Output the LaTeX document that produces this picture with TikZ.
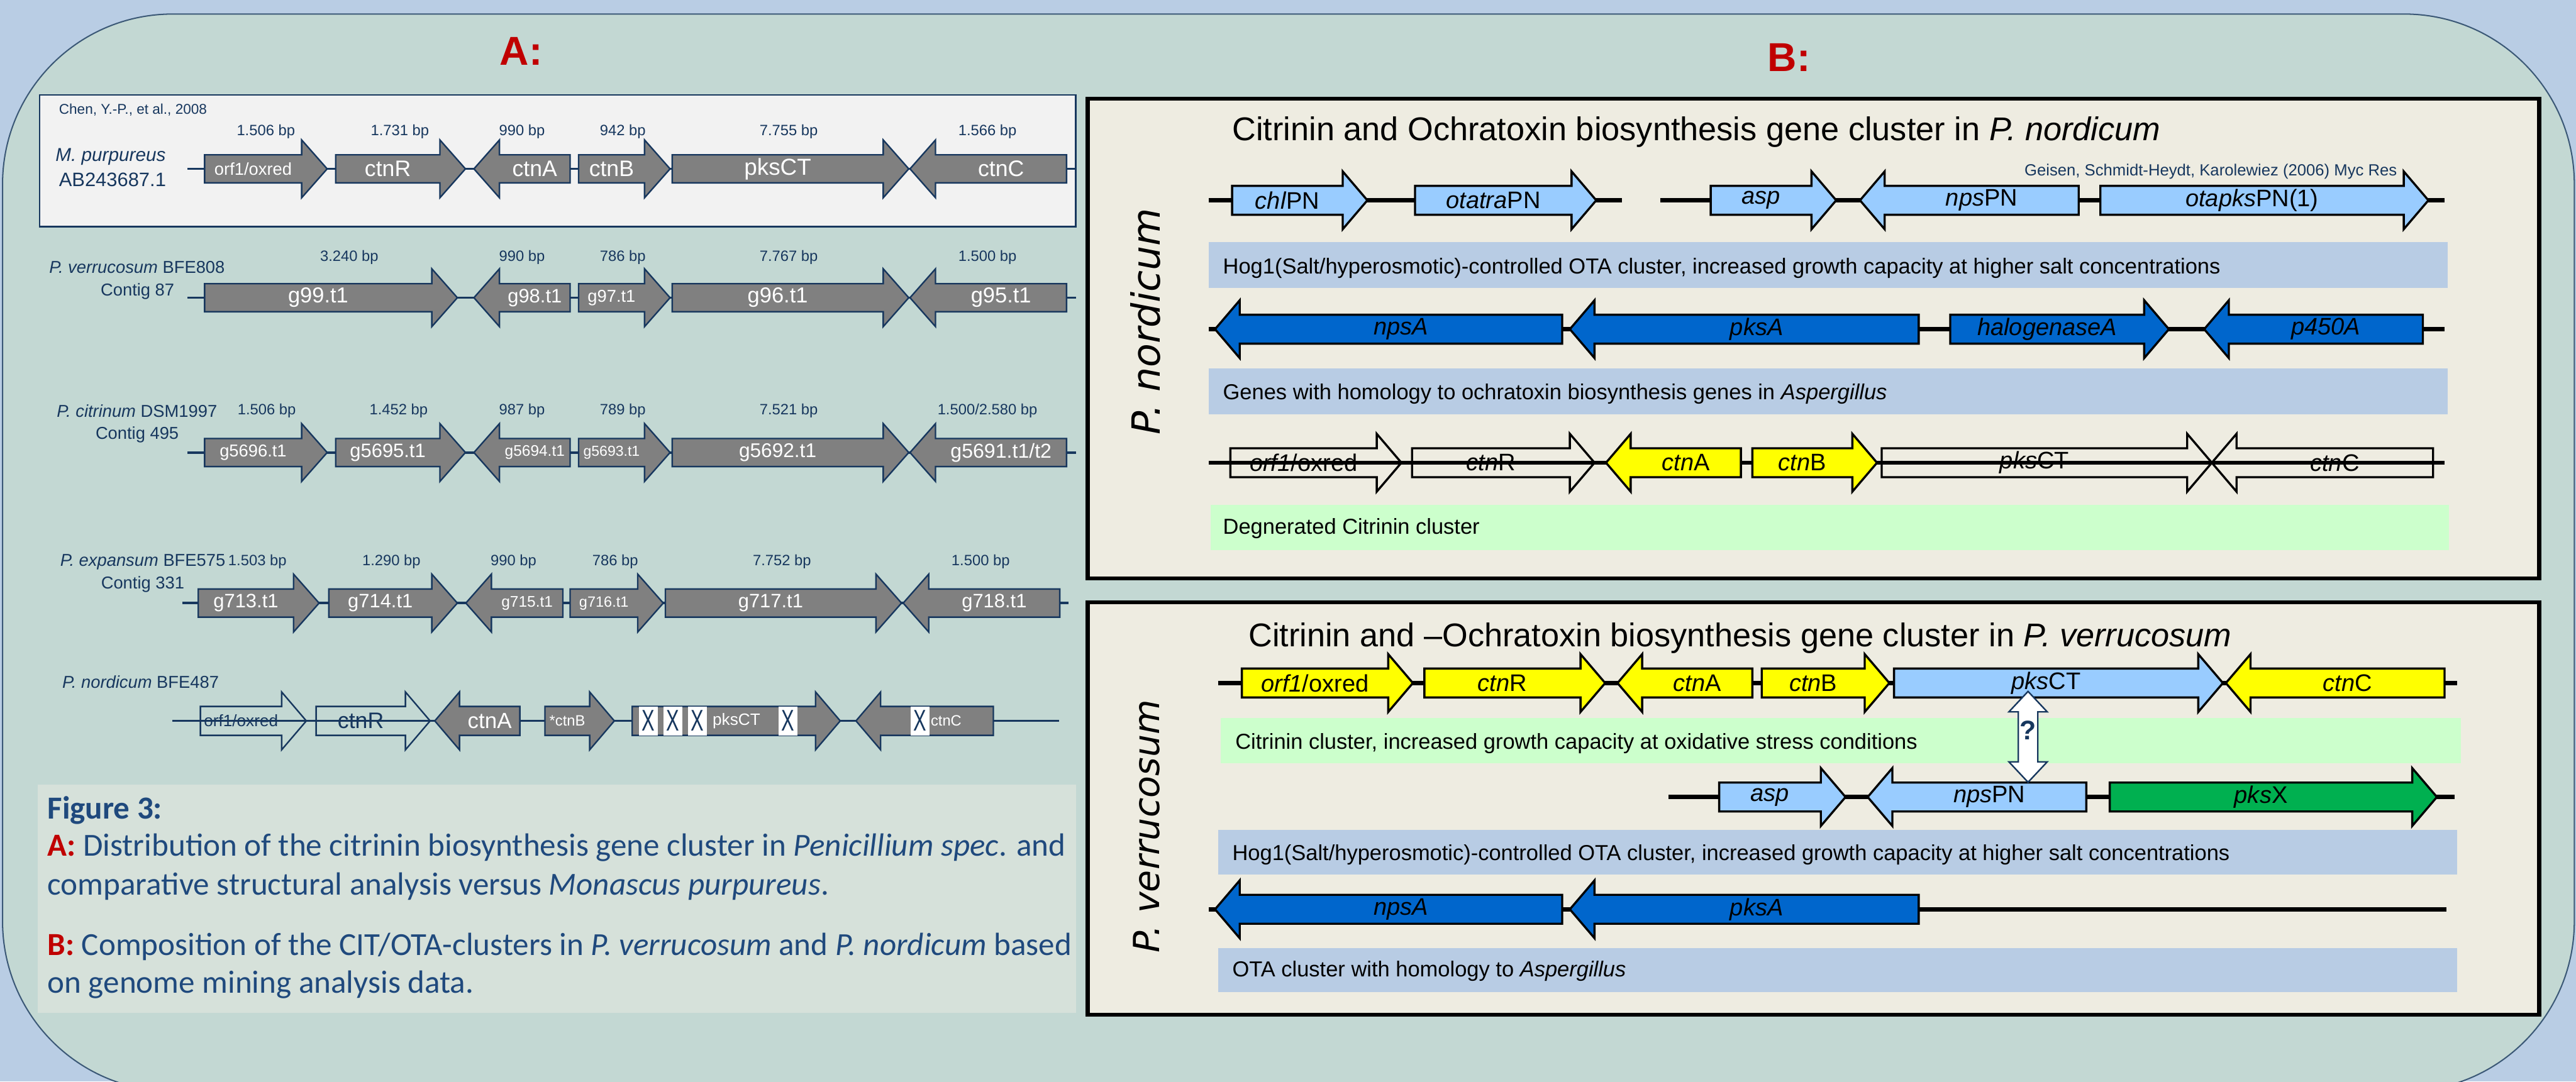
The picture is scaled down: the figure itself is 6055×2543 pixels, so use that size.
\documentclass[tikz,border=0pt]{standalone}
\usepackage{fontspec}
\setmainfont{Liberation Sans}
\newfontfamily\capfont{Carlito}
\newfontfamily\widefont{DejaVu Sans}
\usetikzlibrary{calc}
\definecolor{sky}{RGB}{185,205,228}
\definecolor{sage}{RGB}{195,216,211}
\definecolor{rim}{RGB}{59,88,118}
\definecolor{navy}{RGB}{23,55,94}
\definecolor{capblue}{RGB}{31,73,125}
\definecolor{capred}{RGB}{192,0,0}
\definecolor{genegrey}{RGB}{128,128,128}
\definecolor{paper}{RGB}{242,242,242}
\definecolor{capbox}{RGB}{214,225,218}
\definecolor{tanbox}{RGB}{238,236,225}
\definecolor{pale}{RGB}{153,204,255}
\definecolor{deep}{RGB}{0,102,204}
\definecolor{lemon}{RGB}{255,255,0}
\definecolor{leaf}{RGB}{0,176,80}
\definecolor{bandblue}{RGB}{184,204,228}
\definecolor{bandgreen}{RGB}{204,255,204}
\newcommand{\fsz}[1]{\fontsize{#1}{#1}\selectfont}
\newcommand{\gene}[7][]{%
  \pgfmathsetmacro{\gdir}{sign(#5-#4)}%
  \pgfmathsetmacro{\gbase}{#5-\gdir*\hl}%
  \pgfmathsetmacro{\gmid}{(#4+\gbase)/2}%
  \pgfmathsetmacro{\glen}{abs(\gbase-#4)}%
  \draw[#3] (#4,#6-\bh) -- (\gbase,#6-\bh) -- (\gbase,#6-\hh) -- (#5,#6)
    -- (\gbase,#6+\hh) -- (\gbase,#6+\bh) -- (#4,#6+\bh) -- cycle;
  \node[minimum width=\glen*0.1mm, minimum height=2*\bh*0.1mm, #1] (#2) at (\gmid,#6) {#7};}

\begin{document}
\begin{tikzpicture}[x=0.1mm, y=-0.1mm, line join=miter,
  every node/.style={inner sep=0pt},
  dnaA/.style={draw=navy, line width=0.55mm},
  dnaB/.style={draw=black, line width=1mm},
  orfA/.style={fill=genegrey, draw=navy, line width=0.35mm},
  lostA/.style={draw=navy, line width=0.35mm},
  orfB/.style={draw=black, line width=0.5mm},
  labA/.style={text=white, font=\fsz{13}},
  labB/.style={font=\fsz{16}},
  bp/.style={anchor=base, text=navy, font=\fsz{10}},
  strain/.style={anchor=base west, text=navy, font=\fsz{11.5}},
  band/.style={anchor=base west, font=\fsz{14.5}},
  xbox/.style={fill=white, minimum width=4.4mm, minimum height=6.8mm, text=navy, font=\fsz{20}},
  caption/.style={anchor=base west, text=capblue, font=\capfont\fsz{21.5}}]
  \useasboundingbox (0,0) rectangle (6055,2543);
  \fill[sky] (0,0) rectangle (6055,2543);
  \draw[fill=sage, draw=rim, line width=0.3mm, rounded corners=40mm] (6,33) rectangle (6051,2566);

  \node[text=capred, font=\bfseries\fsz{27}] (partA) at (1225,120) {A:};
  \node[text=capred, font=\bfseries\fsz{27}] (partB) at (4205,135) {B:};

  \draw[fill=paper, draw=navy, line width=0.4mm] (93,223) rectangle (2529,533);
  \node[anchor=base west, text=navy, font=\fsz{9.5}] (chen) at (138,269) {Chen, Y.-P., et al., 2008};
  \node[strain, font={\fsz{12.5}\itshape}] (mp) at (130,379) {M. purpureus};
  \node[strain, font=\fsz{13}] (mpacc) at (138,439) {AB243687.1};
  \node[strain] (pv) at (115,643) {\textit{P. verrucosum} BFE808};
  \node[strain] (pvc) at (236,696) {Contig 87};
  \node[strain] (pc) at (133,981) {\textit{P. citrinum} DSM1997};
  \node[strain] (pcc) at (224,1032) {Contig 495};
  \node[strain] (pe) at (141,1331) {\textit{P. expansum} BFE575};
  \node[strain] (pec) at (237,1385) {Contig 331};
  \node[strain] (pn) at (146,1618) {\textit{P. nordicum} BFE487};

  \foreach \x/\t [count=\i] in {625/1.506 bp, 940/1.731 bp, 1227/990 bp, 1464/942 bp, 1854/7.755 bp, 2321/1.566 bp}
    \node[bp] (mpbp\i) at (\x,319) {\t};
  \foreach \x/\t [count=\i] in {821/3.240 bp, 1227/990 bp, 1464/786 bp, 1854/7.767 bp, 2321/1.500 bp}
    \node[bp] (pvbp\i) at (\x,614) {\t};
  \foreach \x/\t [count=\i] in {627/1.506 bp, 937/1.452 bp, 1227/987 bp, 1464/789 bp, 1854/7.521 bp}
    \node[bp] (pcbp\i) at (\x,975) {\t};
  \node[bp] (pcbp6) at (2321,975) {1.500/2.580 bp};
  \foreach \x/\t [count=\i] in {605/1.503 bp, 920/1.290 bp, 1207/990 bp, 1446/786 bp, 1838/7.752 bp, 2305/1.500 bp}
    \node[bp] (pebp\i) at (\x,1330) {\t};

  \def\bh{33}\def\hh{68}\def\hl{60}
  \draw[dnaA] (441,397) -- (2529,397);
  \gene[labA, font=\fsz{11.5}]{mp1}{orfA}{481}{769}{397}{orf1/oxred}
  \gene[labA, font=\fsz{15}]{mp2}{orfA}{789}{1094}{397}{ctnR}
  \gene[labA, font=\fsz{15}]{mp3}{orfA}{1340}{1114}{397}{ctnA}
  \gene[labA, font=\fsz{15}]{mp4}{orfA}{1360}{1575}{397}{ctnB}
  \gene[labA, font=\fsz{15.5}]{mp5}{orfA}{1580}{2136}{397}{pksCT}
  \gene[labA, font=\fsz{15}]{mp6}{orfA}{2507}{2139}{397}{ctnC}

  \draw[dnaA] (441,700) -- (2529,700);
  \gene[labA, font=\fsz{14.5}]{pv1}{orfA}{481}{1075}{700}{g99.t1}
  \gene[labA]{pv2}{orfA}{1340}{1114}{700}{g98.t1}
  \gene[labA, font=\fsz{11.5}]{pv3}{orfA}{1360}{1575}{700}{g97.t1}
  \gene[labA, font=\fsz{14.5}]{pv4}{orfA}{1580}{2136}{700}{g96.t1}
  \gene[labA, font=\fsz{14.5}]{pv5}{orfA}{2507}{2139}{700}{g95.t1}

  \draw[dnaA] (441,1064) -- (2529,1064);
  \gene[labA, font=\fsz{11.5}]{pc1}{orfA}{481}{769}{1064}{g5696.t1}
  \gene[labA]{pc2}{orfA}{789}{1094}{1064}{g5695.t1}
  \gene[labA, font=\fsz{10.3}]{pc3}{orfA}{1340}{1114}{1064}{g5694.t1}
  \gene[labA, font=\fsz{9.7}]{pc4}{orfA}{1360}{1575}{1064}{g5693.t1}
  \gene[labA, font=\fsz{13.3}]{pc5}{orfA}{1580}{2136}{1064}{g5692.t1}
  \gene[labA, font=\fsz{13.5}]{pc6}{orfA}{2507}{2139}{1064}{g5691.t1/t2}

  \draw[dnaA] (428,1418) -- (2512,1418);
  \gene[labA]{pe1}{orfA}{466}{750}{1418}{g713.t1}
  \gene[labA]{pe2}{orfA}{773}{1075}{1418}{g714.t1}
  \gene[labA, font=\fsz{10.3}]{pe3}{orfA}{1323}{1095}{1418}{g715.t1}
  \gene[labA, font=\fsz{9.9}]{pe4}{orfA}{1340}{1559}{1418}{g716.t1}
  \gene[labA]{pe5}{orfA}{1564}{2119}{1418}{g717.t1}
  \gene[labA]{pe6}{orfA}{2491}{2123}{1418}{g718.t1}

  \def\bh{34}\def\hh{68}\def\hl{58}
  \draw[dnaA] (405,1695) -- (2490,1695);
  \gene[text=navy, font=\fsz{11}]{pn1}{lostA}{471}{720}{1695}{orf1/oxred}
  \gene[text=navy, font=\fsz{15}]{pn2}{lostA}{743}{1011}{1695}{ctnR}
  \gene[labA, font=\fsz{14.7}]{pn3}{orfA}{1222}{1022}{1695}{ctnA}
  \gene[labA, font=\fsz{10}]{pn4}{orfA}{1281}{1444}{1695}{*ctnB}
  \gene{pn5}{orfA}{1486}{1975}{1695}{}
  \gene{pn6}{orfA}{2335}{2012}{1695}{}
  \node[xbox] (x1) at (1524,1695) {\scalebox{0.65}[1]{X}};
  \node[xbox] (x2) at (1582,1695) {\scalebox{0.65}[1]{X}};
  \node[xbox] (x3) at (1639,1695) {\scalebox{0.65}[1]{X}};
  \node[xbox] (x4) at (1852,1695) {\scalebox{0.65}[1]{X}};
  \node[xbox] (x5) at (2163,1695) {\scalebox{0.65}[1]{X}};
  \node[text=white, font=\fsz{11}] (pn5t) at (1731,1695) {pksCT};
  \node[text=white, font=\fsz{10}] (pn6t) at (2224,1695) {ctnC};

  \fill[capbox] (89,1845) rectangle (2529,2382);
  \node[caption] (cap1) at (111,1925) {\textbf{Figure 3:}};
  \node[caption] (cap2) at (111,2013) {\textcolor{capred}{\textbf{A:}} Distribution of the citrinin biosynthesis gene cluster in \textit{Penicillium spec}. and};
  \node[caption] (cap3) at (111,2105) {comparative structural analysis versus \textit{Monascus purpureus}.};
  \node[caption] (cap4) at (111,2246) {\textcolor{capred}{\textbf{B:}} Composition of the CIT/OTA-clusters in \textit{P. verrucosum} and \textit{P. nordicum} based};
  \node[caption] (cap5) at (111,2335) {on genome mining analysis data.};

  \draw[fill=tanbox, line width=1mm] (2557,232) rectangle (5969,1360);
  \draw[fill=tanbox, line width=1mm] (2557,1416) rectangle (5969,2386);
  \node[rotate=90, font={\widefont\fsz{26}\itshape}] (nordlab) at (2693,756) {P. nordicum};
  \node[rotate=90, font={\widefont\fsz{24}\itshape}] (verrlab) at (2695,1943) {P. verrucosum};

  \node[anchor=base west, font=\fsz{22}] (titleN) at (2896,330) {Citrinin and Ochratoxin biosynthesis gene cluster in \textit{P. nordicum}};
  \node[anchor=base west, text=navy, font=\fsz{10.8}] (cite) at (4758,413) {Geisen, Schmidt-Heydt, Karolewiez (2006) Myc Res};
  \fill[bandblue] (2841,569) rectangle (5753,677);
  \node[band] (bandN1) at (2874,644) {Hog1(Salt/hyperosmotic)-controlled OTA cluster, increased growth capacity at higher salt concentrations};
  \fill[bandblue] (2841,866) rectangle (5753,974);
  \node[band] (bandN2) at (2874,939) {Genes with homology to ochratoxin biosynthesis genes in \textit{Aspergillus}};
  \fill[bandgreen] (2845,1187) rectangle (5757,1294);
  \node[band] (bandN3) at (2874,1256) {Degnerated Citrinin cluster};

  \draw[dnaB] (2841,471) -- (3813,471);
  \draw[dnaB] (3902,471) -- (5746,471);
  \gene[labB]{chl}{orfB, fill=pale}{2896}{3214}{471}{\textit{chl}PN}
  \gene[labB]{otatra}{orfB, fill=pale}{3326}{3752}{471}{\textit{otatra}PN}
  \gene[labB]{aspN}{orfB, fill=pale}{4021}{4316}{471}{\textit{asp}}
  \gene[labB]{npsN}{orfB, fill=pale}{4886}{4372}{471}{\textit{nps}PN}
  \gene[labB]{otapks}{orfB, fill=pale}{4937}{5708}{471}{\textit{otapks}PN(1)}

  \draw[dnaB] (2841,774) -- (5746,774);
  \gene[labB]{npsAN}{orfB, fill=deep}{3672}{2856}{774}{\textit{npsA}}
  \gene[labB]{pksAN}{orfB, fill=deep}{4510}{3690}{774}{\textit{pksA}}
  \gene[labB]{halo}{orfB, fill=deep}{4584}{5098}{774}{\textit{halogenaseA}}
  \gene[labB]{p450}{orfB, fill=deep}{5695}{5181}{774}{\textit{p450A}}

  \draw[dnaB] (2841,1088) -- (5746,1088);
  \gene[labB]{orfN}{orfB}{2892}{3294}{1088}{\textit{orf1}/oxred}
  \gene[labB]{ctnRN}{orfB}{3319}{3748}{1088}{\textit{ctn}R}
  \gene[labB]{ctnAN}{orfB, fill=lemon}{4092}{3775}{1088}{\textit{ctn}A}
  \gene[labB]{ctnBN}{orfB, fill=lemon}{4119}{4412}{1088}{\textit{ctn}B}
  \gene[labB]{pksN}{orfB}{4423}{5199}{1088}{\textit{pks}CT}
  \gene[labB]{ctnCN}{orfB}{5719}{5199}{1088}{\textit{ctn}C}

  \node[anchor=base west, font=\fsz{22}] (titleV) at (2934,1520) {Citrinin and --Ochratoxin biosynthesis gene cluster in \textit{P. verrucosum}};
  \fill[bandgreen] (2870,1688) rectangle (5784,1794);
  \node[band] (bandV1) at (2903,1761) {Citrinin cluster, increased growth capacity at oxidative stress conditions};
  \fill[bandblue] (2863,1952) rectangle (5775,2056);
  \node[band] (bandV2) at (2896,2023) {Hog1(Salt/hyperosmotic)-controlled OTA cluster, increased growth capacity at higher salt concentrations};
  \fill[bandblue] (2863,2229) rectangle (5775,2333);
  \node[band] (bandV3) at (2896,2296) {OTA cluster with homology to \textit{Aspergillus}};

  \draw[dnaB] (2863,1606) -- (5775,1606);
  \gene[labB]{vorf}{orfB, fill=lemon}{2919}{3321}{1606}{\textit{orf1}/oxred}
  \gene[labB]{vctnR}{orfB, fill=lemon}{3348}{3773}{1606}{\textit{ctn}R}
  \gene[labB]{vctnA}{orfB, fill=lemon}{4119}{3802}{1606}{\textit{ctn}A}
  \gene[labB]{vctnB}{orfB, fill=lemon}{4141}{4441}{1606}{\textit{ctn}B}
  \gene[labB]{vpks}{orfB, fill=pale}{4452}{5225}{1606}{\textit{pks}CT}
  \gene[labB]{vctnC}{orfB, fill=lemon}{5746}{5232}{1606}{\textit{ctn}C}

  \draw[dnaB] (3922,1874) -- (5769,1874);
  \gene[labB]{vasp}{orfB, fill=pale}{4041}{4338}{1874}{\textit{asp}}
  \gene[labB]{vnps}{orfB, fill=pale}{4904}{4390}{1874}{\textit{nps}PN}
  \gene[labB]{vpksX}{orfB, fill=leaf}{4959}{5728}{1874}{\textit{pks}X}

  \draw[dnaB] (2841,2138) -- (5751,2138);
  \gene[labB]{vnpsA}{orfB, fill=deep}{3672}{2856}{2138}{\textit{npsA}}
  \gene[labB]{vpksA}{orfB, fill=deep}{4510}{3690}{2138}{\textit{pksA}}

  \coordinate (qx) at (4767,0);
  \coordinate (qtop) at ($(qx |- vpks.south)+(0,-15)$);
  \coordinate (qbot) at (qx |- vnps.north);
  \draw[fill=white, draw=navy, line width=0.35mm] (qtop) -- ++(45,48) -- ++(-22,0) -- ($(qbot)+(23,-48)$) -- ++(22,0)
    -- (qbot) -- ++(-45,-48) -- ++(22,0) -- ($(qtop)+(-23,48)$) -- ++(-22,0) -- cycle;
  \node[text=navy, font=\bfseries\fsz{18}] (qmark) at ($(qtop)!0.43!(qbot)$) {?};
\end{tikzpicture}
\end{document}
